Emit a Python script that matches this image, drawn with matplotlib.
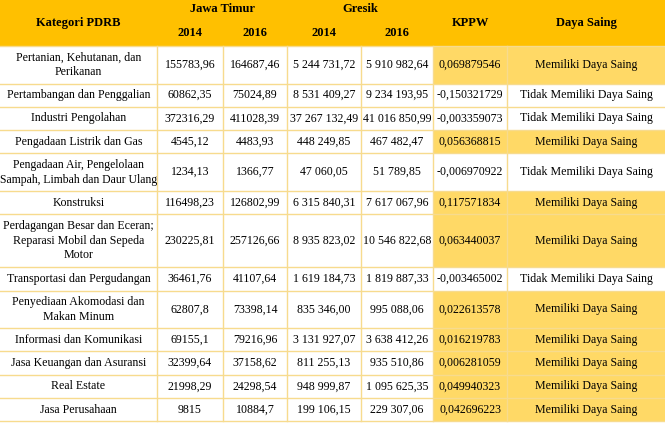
import matplotlib
matplotlib.use("Agg")
from matplotlib import pyplot as plt
from matplotlib.patches import Rectangle

plt.rcParams['font.family'] = ['Liberation Serif', 'DejaVu Serif']

# data
kategori = [
    'Pertanian, Kehutanan, dan\nPerikanan',
    'Pertambangan dan Penggalian',
    'Industri Pengolahan',
    'Pengadaan Listrik dan Gas',
    'Pengadaan Air, Pengelolaan\nSampah, Limbah dan Daur Ulang',
    'Konstruksi',
    'Perdagangan Besar dan Eceran;\nReparasi Mobil dan Sepeda\nMotor',
    'Transportasi dan Pergudangan',
    'Penyediaan Akomodasi dan\nMakan Minum',
    'Informasi dan Komunikasi',
    'Jasa Keuangan dan Asuransi',
    'Real Estate',
    'Jasa Perusahaan',
]
jatim_2014 = ['155783,96', '60862,35', '372316,29', '4545,12', '1234,13', '116498,23',
              '230225,81', '36461,76', '62807,8', '69155,1', '32399,64', '21998,29', '9815']
jatim_2016 = ['164687,46', '75024,89', '411028,39', '4483,93', '1366,77', '126802,99',
              '257126,66', '41107,64', '73398,14', '79216,96', '37158,62', '24298,54', '10884,7']
gresik_2014 = ['5 244 731,72', '8 531 409,27', '37 267 132,49', '448 249,85', '47 060,05',
               '6 315 840,31', '8 935 823,02', '1 619 184,73', '835 346,00', '3 131 927,07',
               '811 255,13', '948 999,87', '199 106,15']
gresik_2016 = ['5 910 982,64', '9 234 193,95', '41 016 850,99', '467 482,47', '51 789,85',
               '7 617 067,96', '10 546 822,68', '1 819 887,33', '995 088,06', '3 638 412,26',
               '935 510,86', '1 095 625,35', '229 307,06']
kppw = [0.069879546, -0.150321729, -0.003359073, 0.056368815, -0.006970922, 0.117571834,
        0.063440037, -0.003465002, 0.022613578, 0.016219783, 0.006281059, 0.049940323,
        0.042696223]

header_col = '#FFC000'
hi_col = '#FFD966'
line_col = '#F7DB8E'

fig = plt.figure(figsize=(6.65, 4.26), dpi=100)
ax = fig.add_axes([0, 0, 1, 1])
ax.set_xlim(0, 665)
ax.set_ylim(426, 0)
ax.axis('off')

xs = [0, 157, 223, 287, 361, 433, 507, 665]
head_h = 46
line_h = {1: 23.3, 2: 37.5, 3: 53}

# header
ax.add_patch(Rectangle((0, 0), 665, head_h, color=header_col, lw=0))
hb = dict(fontsize=9, fontweight='bold', ha='center', va='center')
ax.text((xs[0] + xs[1]) / 2, 23, 'Kategori PDRB', **hb)
ax.text((xs[1] + xs[3]) / 2, 9, 'Jawa Timur', **hb)
ax.text((xs[3] + xs[5]) / 2, 9, 'Gresik', **hb)
for i, yr in enumerate(['2014', '2016', '2014', '2016']):
    ax.text((xs[i + 1] + xs[i + 2]) / 2, 33, yr, **hb)
ax.text((xs[5] + xs[6]) / 2, 23, 'KPPW', **hb)
ax.text((xs[6] + xs[7]) / 2, 23, 'Daya Saing', **hb)

# body
y = head_h
for i, kat in enumerate(kategori):
    h = line_h[kat.count('\n') + 1]
    ym = y + h / 2
    if kppw[i] > 0:
        ax.add_patch(Rectangle((xs[5], y), xs[7] - xs[5], h, color=hi_col, lw=0))
        status = 'Memiliki Daya Saing'
    else:
        status = 'Tidak Memiliki Daya Saing'
    vals = [kat, jatim_2014[i], jatim_2016[i], gresik_2014[i], gresik_2016[i],
            ('%.9f' % kppw[i]).replace('.', ','), status]
    for j, v in enumerate(vals):
        fs = 8.6
        if j == 0 and 'Sampah' in v:
            fs = 8.4  # widest label, keep it inside the figure
        ax.text((xs[j] + xs[j + 1]) / 2, ym, v, fontsize=fs, ha='center',
                va='center', linespacing=1.3)
    y += h
    ax.plot([0, 665], [y, y], color=line_col, lw=1)

# vertical grid lines
for x in xs[1:-1]:
    ax.plot([x, x], [head_h, y], color=line_col, lw=1)
ax.plot([0, 665], [head_h, head_h], color=line_col, lw=1)

fig.savefig('out.png', dpi=100)
